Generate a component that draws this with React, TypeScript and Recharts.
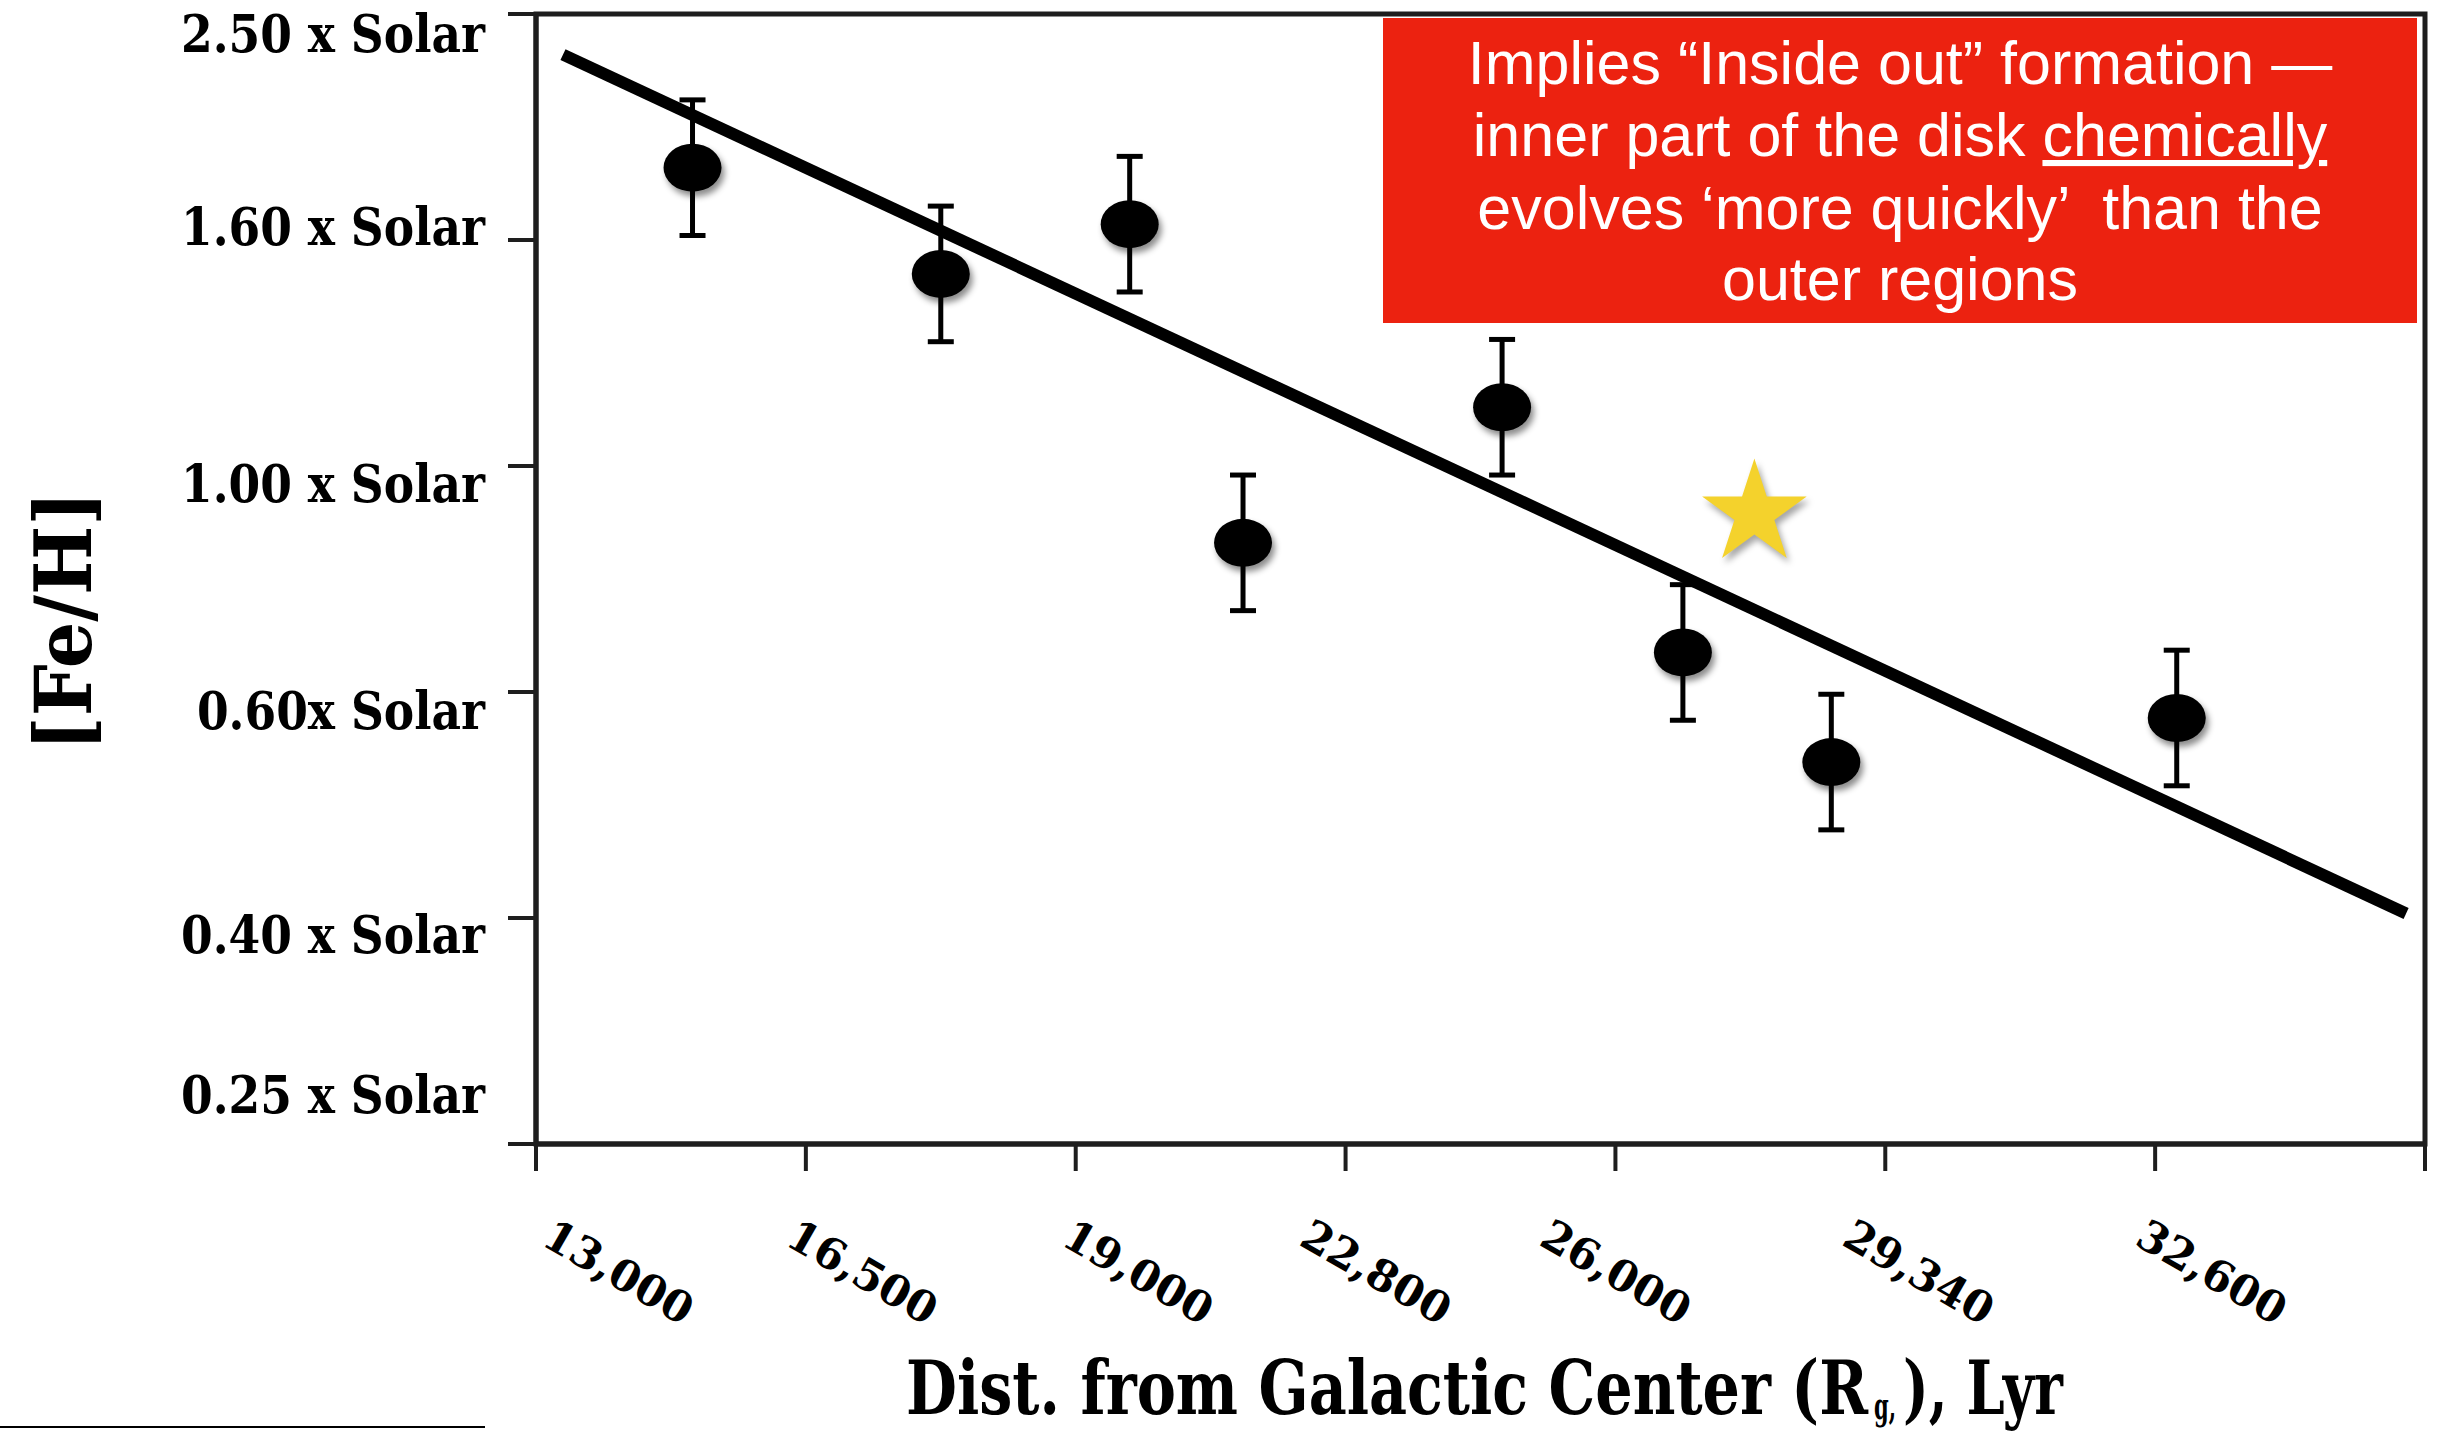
import React from "react";
import { ScatterChart, Scatter, XAxis, YAxis, ErrorBar, ReferenceLine, ReferenceArea } from "recharts";

// distance axis: ticks are evenly spaced, labels are not linear
const xTicks = [0, 1, 2, 3, 4, 5, 6, 7];
const xTickLabels = ["13,000", "16,500", "19,000", "22,800", "26,000", "29,340", "32,600", ""];

// [Fe/H] in dex, labelled as multiples of solar
const yTicks = [-0.6, -0.4, -0.2, 0, 0.2, 0.4];
const yTickLabels = ["0.25 x Solar", "0.40 x Solar", "0.60x Solar", "1.00 x Solar", "1.60 x Solar", "2.50 x Solar"];

// open clusters (position on the tick index scale, [Fe/H], error)
const clusterX = [0.58, 1.5, 2.2, 2.62, 3.58, 4.25, 4.8, 6.08];
const clusterFeH = [0.264, 0.17, 0.214, -0.068, 0.052, -0.165, -0.262, -0.223];
const clusterErr = [0.06, 0.06, 0.06, 0.06, 0.06, 0.06, 0.06, 0.06];

// the Sun
const sunX = [4.515];
const sunFeH = [-0.042];

// gradient fit
const trendX = [0.1, 6.93];
const trendFeH = [0.364, -0.396];

const clusters = clusterX.map((x, i) => ({ x, y: clusterFeH[i], err: clusterErr[i] }));
const sun = sunX.map((x, i) => ({ x, y: sunFeH[i] }));

const AXIS = "#1e1e1e";
const SLAB = "'DejaVu Serif', serif";

const Y_LABEL_SHIFT = [-49, 17, 19, 18, -13, 20];
const X_LABEL_SHIFT = [4, -22, -16, -48, -78, -45, -22, 0];

function YTick(props: any) {
  const { x, y, payload } = props;
  const i = yTicks.indexOf(payload.value);
  return (
    <text
      transform={`translate(${x},${y + Y_LABEL_SHIFT[i]}) scale(0.86,1)`}
      textAnchor="end"
      dominantBaseline="central"
      fontFamily={SLAB}
      fontWeight="bold"
      fontSize={53}
      fill="#000"
    >
      {yTickLabels[i]}
    </text>
  );
}

function XTick(props: any) {
  const { x, y, payload } = props;
  const i = xTicks.indexOf(payload.value);
  const label = xTickLabels[i];
  if (!label) return null;
  const tx = x + X_LABEL_SHIFT[i];
  return (
    <text
      x={tx}
      y={y}
      transform={`rotate(30 ${tx} ${y})`}
      textAnchor="start"
      fontFamily={SLAB}
      fontWeight="bold"
      fontSize={43}
      fill="#000"
    >
      {label}
    </text>
  );
}

function ClusterDot(props: any) {
  const { cx, cy } = props;
  return (
    <ellipse
      cx={cx}
      cy={cy}
      rx={29}
      ry={24}
      fill="#000"
      style={{ filter: "drop-shadow(3px 5px 3px rgba(0,0,0,0.45))" }}
    />
  );
}

function SunStar(props: any) {
  const { cx, cy } = props;
  const R = 55;
  const r = R * 0.382;
  const pts: string[] = [];
  for (let k = 0; k < 10; k++) {
    const rad = k % 2 === 0 ? R : r;
    const a = -Math.PI / 2 + (k * Math.PI) / 5;
    pts.push(`${cx + rad * Math.cos(a)},${cy + rad * Math.sin(a)}`);
  }
  return (
    <polygon
      points={pts.join(" ")}
      fill="#F4D22C"
      style={{ filter: "drop-shadow(3px 5px 3px rgba(0,0,0,0.35))" }}
    />
  );
}

export default function App() {
  return (
    <div style={{ position: "absolute", left: 0, top: 0, width: 2438, height: 1432, background: "#fff" }}>
      <ScatterChart width={2438} height={1432} margin={{ top: 14, right: 13, bottom: 0, left: 0 }}>
        <XAxis
          type="number"
          dataKey="x"
          domain={[0, 7]}
          ticks={xTicks}
          interval={0}
          height={288}
          tick={XTick}
          tickSize={27}
          tickMargin={73}
          tickLine={{ stroke: AXIS, strokeWidth: 4 }}
          axisLine={{ stroke: AXIS, strokeWidth: 5 }}
        />
        <YAxis
          type="number"
          dataKey="y"
          domain={[-0.6, 0.4]}
          ticks={yTicks}
          interval={0}
          width={536}
          tick={YTick}
          tickSize={28}
          tickMargin={23}
          tickLine={{ stroke: AXIS, strokeWidth: 4 }}
          axisLine={{ stroke: AXIS, strokeWidth: 5 }}
        />
        <ReferenceArea
          x1={0}
          x2={7}
          y1={-0.6}
          y2={0.4}
          fill="none"
          fillOpacity={0}
          stroke={AXIS}
          strokeWidth={5}
          ifOverflow="visible"
        />
        <Scatter data={clusters} shape={ClusterDot} isAnimationActive={false}>
          <ErrorBar dataKey="err" direction="y" width={13} strokeWidth={5} stroke="#000" isAnimationActive={false} />
        </Scatter>
        <Scatter data={sun} shape={SunStar} isAnimationActive={false} />
        <ReferenceLine
          segment={[
            { x: trendX[0], y: trendFeH[0] },
            { x: trendX[1], y: trendFeH[1] },
          ]}
          stroke="#000"
          strokeWidth={12}
          ifOverflow="visible"
        />
      </ScatterChart>

      <svg width={2438} height={1432} style={{ position: "absolute", left: 0, top: 0, pointerEvents: "none" }}>
        <text
          transform="translate(63,621) rotate(-90)"
          textAnchor="middle"
          dominantBaseline="central"
          fontFamily={SLAB}
          fontWeight="bold"
          fontSize={78}
          textLength={260}
          lengthAdjust="spacingAndGlyphs"
          fill="#000"
        >
          [Fe/H]
        </text>
        <g fontFamily={SLAB} fontWeight="bold" fill="#000">
          <text x={906} y={1414} fontSize={74} textLength={962} lengthAdjust="spacingAndGlyphs">
            Dist. from Galactic Center (R
          </text>
          <text x={1874} y={1419} fontSize={38} textLength={22} lengthAdjust="spacingAndGlyphs">
            g,
          </text>
          <text x={1903} y={1414} fontSize={74} textLength={160} lengthAdjust="spacingAndGlyphs">
            ), Lyr
          </text>
        </g>
        <line x1={0} y1={1427} x2={485} y2={1427} stroke="#000" strokeWidth={2} />

        <rect x={1383} y={18} width={1034} height={305} fill="#EC2210" />
        <g fontFamily="'Liberation Sans', Arial, sans-serif" fontSize={61} fill="#fff" textAnchor="middle">
          <text x={1900} y={84} xmlSpace="preserve" style={{ whiteSpace: "pre" }}>
            Implies “Inside out” formation —
          </text>
          <text x={1900} y={156} xmlSpace="preserve" style={{ whiteSpace: "pre" }}>
            {"inner part of the disk "}
            <tspan textDecoration="underline">chemically</tspan>
          </text>
          <text x={1900} y={229} xmlSpace="preserve" style={{ whiteSpace: "pre" }}>
            {"evolves ‘more quickly’  than the"}
          </text>
          <text x={1900} y={300} xmlSpace="preserve" style={{ whiteSpace: "pre" }}>
            outer regions
          </text>
        </g>
      </svg>
    </div>
  );
}
